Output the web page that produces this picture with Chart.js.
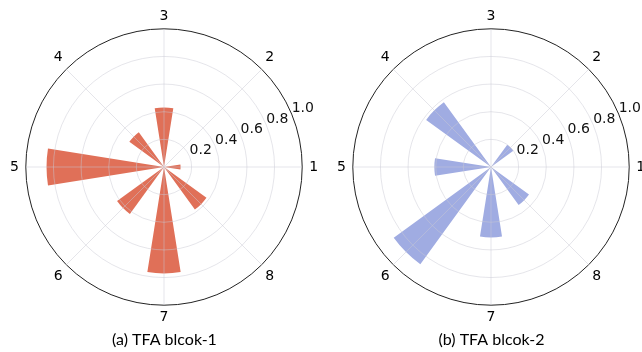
<!DOCTYPE html>
<html>
<head>
<meta charset="utf-8">
<script src="https://cdn.jsdelivr.net/npm/chart.js@4.4.1/dist/chart.umd.min.js"></script>
<style>
  html, body { margin: 0; padding: 0; background: #fff; overflow: hidden; }
  #wrap { position: relative; width: 642px; height: 352px; overflow: hidden; }
  .panel { position: absolute; top: 0; width: 327px; height: 352px; }
  #pa { left: 1px; }
  #pb { left: 328px; }
</style>
</head>
<body>
<div id="wrap">
  <div class="panel" id="pa"><canvas id="ca" width="327" height="352"></canvas></div>
  <div class="panel" id="pb"><canvas id="cb" width="327" height="352"></canvas></div>
</div>
<script>
// Direction bins (1 = east, counter-clockwise in 45 degree steps)
const directions = ['1', '2', '3', '4', '5', '6', '7', '8'];
// Normalised bar lengths per direction
const block1 = [0.12, 0.00, 0.43, 0.31, 0.85, 0.42, 0.77, 0.38];
const block2 = [0.00, 0.20, 0.00, 0.58, 0.41, 0.87, 0.51, 0.34];
// Radial tick values
const radialTicks = [0.2, 0.4, 0.6, 0.8, 1.0];
const captions = ['(a) TFA blcok-1', '(b) TFA blcok-2'];
const barColors = ['#E07058', '#A0ACE2'];

const BAR_DEG = 18;           // angular width of each bar
const STEP_DEG = 45;          // spacing between direction bins
// Direction indices in clockwise order starting from the top (3, 2, 1, 8, 7, 6, 5, 4)
const clockwise = [2, 1, 0, 7, 6, 5, 4, 3];

// Build the arc sequence: bars centred on each direction with empty arcs in between.
// The top bar is split in two halves so that it is centred on the start angle.
function buildSlices(values) {
  const r = [], a = [];
  clockwise.forEach((d, k) => {
    r.push(values[d]);
    a.push(k === 0 ? BAR_DEG / 2 : BAR_DEG);
    r.push(0);
    a.push(STEP_DEG - BAR_DEG);
  });
  r.push(values[clockwise[0]]);
  a.push(BAR_DEG / 2);
  return { r, a };
}

// Radial tick labels along the 22.5 degree ray, drawn through the scale
const rLabelPlugin = {
  id: 'rLabels',
  afterDraw(chart) {
    const s = chart.scales.r;
    const ctx = chart.ctx;
    const th = 22.5 * Math.PI / 180;
    ctx.save();
    ctx.font = '14px "DejaVu Sans"';
    ctx.fillStyle = '#111';
    ctx.textAlign = 'left';
    ctx.textBaseline = 'alphabetic';
    radialTicks.forEach(v => {
      const d = s.getDistanceFromCenterForValue(v);
      ctx.fillText(v.toFixed(1), s.xCenter + d * Math.cos(th), s.yCenter - d * Math.sin(th) - 2);
    });
    ctx.restore();
  }
};

function isOuter(v) { return Math.abs(v - 1) < 1e-6; }

function makeChart(canvasId, values, color, caption) {
  const s = buildSlices(values);
  const gridGray = 'rgba(200,200,210,0.6)';
  return new Chart(document.getElementById(canvasId), {
    type: 'polarArea',
    data: {
      labels: clockwise.map(d => directions[d]),
      datasets: [{
        data: s.r,
        angle: c => s.a[c.dataIndex],
        backgroundColor: color,
        borderWidth: 0
      }]
    },
    options: {
      responsive: false,
      animation: false,
      layout: { padding: { top: 8, bottom: 0, left: 0, right: 0 } },
      plugins: {
        legend: { display: false },
        tooltip: { enabled: false },
        title: {
          display: true,
          position: 'bottom',
          text: caption,
          color: '#000',
          font: { family: 'Lato', size: 16, weight: 'normal' },
          padding: { top: 2, bottom: 3 }
        }
      },
      scales: {
        r: {
          type: 'radialLinear',
          min: 0,
          max: 1,
          startAngle: 0,
          ticks: { display: false, stepSize: 0.2 },
          grid: {
            circular: true,
            z: 1,
            color: c => isOuter(c.tick.value) ? '#222' : gridGray,
            lineWidth: c => isOuter(c.tick.value) ? 1 : 0.8
          },
          angleLines: { display: true, color: gridGray, lineWidth: 0.8 },
          pointLabels: {
            display: true,
            color: '#000',
            font: { family: 'DejaVu Sans', size: 14 },
            padding: c => (c.index % 4 === 0 ? 4 : (c.index % 2 === 0 ? 7 : 5))
          }
        }
      }
    },
    plugins: [rLabelPlugin]
  });
}

makeChart('ca', block1, barColors[0], captions[0]);
makeChart('cb', block2, barColors[1], captions[1]);
</script>
</body>
</html>
